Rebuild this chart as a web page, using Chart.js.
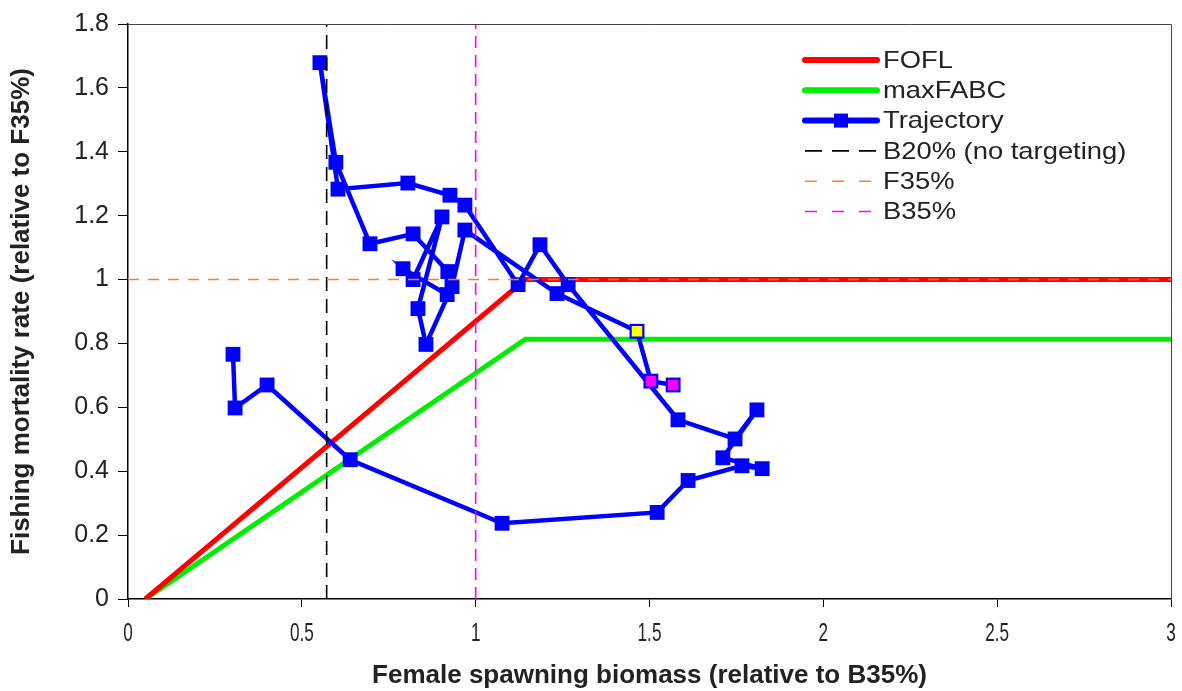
<!DOCTYPE html>
<html><head><meta charset="utf-8">
<script src="https://cdn.jsdelivr.net/npm/chart.js@4.4.1/dist/chart.umd.min.js"></script>
<style>html,body{margin:0;padding:0;background:#fff;} #wrap{width:1182px;height:691px;position:relative;}</style>
</head><body><div id="wrap"><canvas id="c" width="1182" height="691"></canvas></div>
<script>
// ---- data ----
const xTicks = [0, 0.5, 1, 1.5, 2, 2.5, 3];
const yTicks = [0, 0.2, 0.4, 0.6, 0.8, 1, 1.2, 1.4, 1.6, 1.8];
const ruleB = [0.05, 1.1429, 3];
const foflF = [0, 1, 1];
const abcF = [0, 0.813, 0.813];
const b20Level = 0.5714;
const b35Level = 1;
const f35Level = 1;
// historical trajectory (biomass rel. B35%, F rel. F35%)
const histB = [0.302, 0.308, 0.400, 0.639, 1.076, 1.522, 1.611, 1.766, 1.824, 1.711, 1.809, 1.746, 1.582,
               1.266, 1.185, 1.122, 0.969, 0.926, 0.805, 0.604, 0.552, 0.598, 0.696, 0.820, 0.920, 0.918,
               0.791, 0.820, 0.903, 0.834, 0.857, 0.932, 0.969, 1.234];
const histF = [0.766, 0.598, 0.670, 0.436, 0.237, 0.271, 0.371, 0.417, 0.408, 0.442, 0.592, 0.501, 0.561,
               0.984, 1.109, 0.984, 1.233, 1.264, 1.302, 1.283, 1.679, 1.367, 1.112, 1.143, 1.025, 0.953,
               1.034, 1.000, 1.196, 0.909, 0.797, 0.978, 1.155, 0.956];
const currentB = [1.464];
const currentF = [0.838];
const projB = [1.504, 1.568];
const projF = [0.682, 0.670];
const labels = ['FOFL', 'maxFABC', 'Trajectory', 'B20% (no targeting)', 'F35%', 'B35%'];

const pts = (xs, ys) => xs.map((x, i) => ({x: x, y: ys[i]}));
const trajB = histB.concat(currentB, projB);
const trajF = histF.concat(currentF, projF);

const TXT = '#222222';
const FONT = '"Liberation Sans", Arial, sans-serif';
const datasets = [
  {label: labels[0], data: pts(ruleB, foflF), showLine: true, borderColor: '#ff0000', borderWidth: 5, pointRadius: 0, order: 5, legendKind: 'solid'},
  {label: labels[1], data: pts(ruleB, abcF), showLine: true, borderColor: '#00ee00', borderWidth: 5, pointRadius: 0, order: 6, legendKind: 'solid'},
  {label: labels[2], data: pts(trajB, trajF), showLine: true, borderColor: '#0000ff', borderWidth: 4.5,
   pointStyle: 'rect', pointRadius: 10.5, pointBackgroundColor: '#0000ff', pointBorderColor: '#0000ff', pointBorderWidth: 0, order: 4, legendKind: 'marker'},
  {label: labels[3], data: pts([b20Level, b20Level], [0, 1.8]), showLine: true, borderColor: '#000000', borderWidth: 1.6, borderDash: [14, 8], pointRadius: 0, order: 1, legendKind: 'dash', legendDash: [17, 10]},
  {label: labels[4], data: pts([0, 3], [f35Level, f35Level]), showLine: true, borderColor: '#ff7f27', borderWidth: 1.6, borderDash: [11, 9], pointRadius: 0, order: 1, legendKind: 'dash', legendDash: [12, 15]},
  {label: labels[5], data: pts([b35Level, b35Level], [0, 1.8]), showLine: true, borderColor: '#ff00ff', borderWidth: 1.6, borderDash: [12, 7], pointRadius: 0, order: 1, legendKind: 'dash', legendDash: [12, 15]},
  {label: 'current', data: pts(currentB, currentF), showLine: false, pointStyle: 'rect', pointRadius: 8.5,
   pointBackgroundColor: '#ffff00', pointBorderColor: '#0000ff', pointBorderWidth: 1.5, order: 3, noLegend: true},
  {label: 'projection', data: pts(projB, projF), showLine: false, pointStyle: 'rect', pointRadius: 8.5,
   pointBackgroundColor: '#ff00ff', pointBorderColor: '#0000ff', pointBorderWidth: 1.5, order: 3, noLegend: true}
];

const framePlugin = {
  id: 'frame',
  afterDraw(chart) {
    const {ctx, chartArea: a} = chart;
    ctx.save();
    ctx.strokeStyle = '#444';
    ctx.lineWidth = 1;
    ctx.beginPath();
    ctx.moveTo(a.left, a.top + 0.5); ctx.lineTo(a.right + 0.5, a.top + 0.5); ctx.lineTo(a.right + 0.5, a.bottom);
    ctx.stroke();
    // condensed x tick labels
    const sx = chart.scales.x;
    ctx.fillStyle = TXT;
    ctx.font = '26px ' + FONT;
    ctx.textAlign = 'center';
    ctx.textBaseline = 'middle';
    xTicks.forEach(v => {
      ctx.save();
      ctx.translate(sx.getPixelForValue(v), a.bottom + 35);
      ctx.scale(0.66, 1);
      ctx.fillText(String(v), 0, 0);
      ctx.restore();
    });
    ctx.restore();
  }
};

const legendPlugin = {
  id: 'customLegend',
  afterDraw(chart) {
    const {ctx, chartArea: a} = chart;
    const x0 = a.right - 366, x1 = a.right - 294, tx = a.right - 288;
    let y = a.top + 36;
    ctx.save();
    chart.data.datasets.forEach(ds => {
      if (ds.noLegend) return;
      ctx.save();
      ctx.strokeStyle = ds.borderColor;
      if (ds.legendKind === 'dash') {
        ctx.lineWidth = 1.6; ctx.setLineDash(ds.legendDash); ctx.lineCap = 'butt';
      } else {
        ctx.lineWidth = 6; ctx.lineCap = 'round';
      }
      ctx.beginPath(); ctx.moveTo(x0, y); ctx.lineTo(x1, y); ctx.stroke();
      if (ds.legendKind === 'marker') {
        ctx.fillStyle = ds.pointBackgroundColor;
        ctx.fillRect((x0 + x1) / 2 - 7, y - 7, 14, 14);
      }
      ctx.restore();
      ctx.save();
      ctx.translate(tx, y);
      ctx.scale(1.14, 1);
      ctx.fillStyle = TXT;
      ctx.font = '24px ' + FONT;
      ctx.textBaseline = 'middle';
      ctx.fillText(ds.label, 0, 1);
      ctx.restore();
      y += 30.3;
    });
    ctx.restore();
  }
};

new Chart(document.getElementById('c'), {
  type: 'scatter',
  data: {datasets: datasets},
  options: {
    responsive: false,
    animation: false,
    layout: {padding: {top: 21, right: 11, left: 0, bottom: 0}},
    plugins: {legend: {display: false}, tooltip: {enabled: false}},
    scales: {
      x: {
        type: 'linear', min: 0, max: 3,
        afterBuildTicks: s => { s.ticks = xTicks.map(v => ({value: v})); },
        afterFit: s => { s.height = 92; },
        grid: {drawOnChartArea: false, drawTicks: true, tickLength: 8, color: '#000', lineWidth: 1},
        border: {display: true, color: '#000', width: 1.5},
        ticks: {display: false},
        title: {display: true, text: 'Female spawning biomass (relative to B35%)', color: TXT,
                font: {family: FONT, size: 26, weight: 'bold'}, padding: {top: 0, bottom: 0}}
      },
      y: {
        type: 'linear', min: 0, max: 1.8,
        afterBuildTicks: s => { s.ticks = yTicks.map(v => ({value: v})); },
        afterFit: s => { s.width = 128; },
        grid: {drawOnChartArea: false, drawTicks: true, tickLength: 10, color: '#000', lineWidth: 1},
        border: {display: true, color: '#000', width: 1.5},
        ticks: {color: TXT, padding: 9, font: {family: FONT, size: 25},
                callback: v => String(v)},
        title: {display: true, text: 'Fishing mortality rate (relative to F35%)', color: TXT,
                font: {family: FONT, size: 26, weight: 'bold'}, padding: {top: 6, bottom: 0}}
      }
    }
  },
  plugins: [framePlugin, legendPlugin]
});
</script></body></html>
